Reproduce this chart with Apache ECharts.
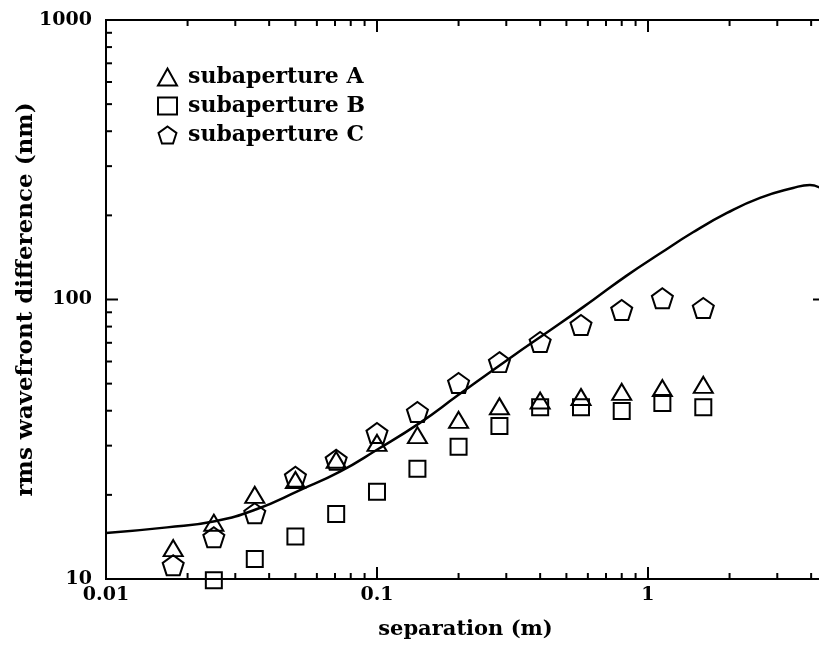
<!DOCTYPE html>
<html>
<head>
<meta charset="utf-8">
<title>rms wavefront difference vs separation</title>
<script src="https://cdn.jsdelivr.net/npm/echarts@6/dist/echarts.min.js"></script>
<style>
  html, body { margin: 0; padding: 0; background: #fff; overflow: hidden; }
  #chart { width: 819px; height: 645px; }
</style>
</head>
<body>
<div id="chart"></div>
<script>
// separations (m) of the measured points
var separation = [0.0177, 0.025, 0.0354, 0.05, 0.0707, 0.1, 0.141, 0.2, 0.283, 0.4, 0.566, 0.8, 1.13, 1.6];
// rms wavefront difference (nm) per subaperture
var subA = [12.9, 15.9, 20.0, 22.6, 26.7, 30.7, 32.7, 37.1, 41.5, 43.5, 44.8, 46.7, 48.2, 49.5];
var subB = [null, 9.9, 11.8, 14.2, 17.1, 20.5, 24.8, 29.7, 35.3, 41.2, 41.2, 39.9, 42.6, 41.2];
var subC = [11.2, 14.1, 17.2, 23.2, 26.7, 33.3, 39.6, 50.3, 59.7, 70.5, 81.0, 91.7, 101, 93.3];
// model curve
var curveX = [0.01, 0.0168, 0.0252, 0.0361, 0.052, 0.073, 0.1, 0.144, 0.2, 0.31, 0.473, 0.627, 0.837, 1.107, 1.466, 1.957, 2.59, 3.43, 3.96, 4.5];
var curveY = [14.6, 15.3, 16.1, 17.8, 20.8, 24.2, 29.0, 36.2, 45.6, 61.8, 82.0, 99.6, 122, 146, 174, 204, 231, 250.6, 257, 244];
// axes
var xMin = 0.01, xMax = 4.5;
var yMin = 10, yMax = 1000;
var xMajorTicks = [0.01, 0.1, 1];
var xMinorTicks = [0.02, 0.03, 0.04, 0.05, 0.06, 0.07, 0.08, 0.09, 0.2, 0.3, 0.4, 0.5, 0.6, 0.7, 0.8, 0.9, 2, 3, 4];
var yMajorTicks = [10, 100, 1000];
var yMinorTicks = [20, 30, 40, 50, 60, 70, 80, 90, 200, 300, 400, 500, 600, 700, 800, 900];
var seriesNames = ['subaperture A', 'subaperture B', 'subaperture C'];

var FONT = 'DejaVu Serif';
var pentagon = 'path://M50,0 L97.6,34.5 L79.4,90.5 L20.6,90.5 L2.4,34.5 Z';

function pairs(xs, ys) {
  var out = [];
  for (var i = 0; i < xs.length; i++) {
    if (ys[i] != null) out.push([xs[i], ys[i]]);
  }
  return out;
}

function isDecade(v) {
  var l = Math.log10(v);
  return Math.abs(l - Math.round(l)) < 1e-6;
}
function fmt(v) {
  return isDecade(v) ? String(Number(v.toPrecision(6))) : '';
}

// ticks on bottom + top edges
function xTickItem(params, api) {
  var v = api.value(0);
  var len = api.value(2) ? 12 : 6;
  var b = api.coord([v, yMin]);
  var t = api.coord([v, yMax]);
  var st = { stroke: '#000', lineWidth: 2 };
  return { type: 'group', children: [
    { type: 'line', shape: { x1: b[0], y1: b[1], x2: b[0], y2: b[1] - len }, style: st },
    { type: 'line', shape: { x1: t[0], y1: t[1], x2: t[0], y2: t[1] + len }, style: st }
  ]};
}
// ticks on left + right edges
function yTickItem(params, api) {
  var v = api.value(1);
  var len = api.value(2) ? 12 : 6;
  var l = api.coord([xMin, v]);
  var r = api.coord([xMax, v]);
  var st = { stroke: '#000', lineWidth: 2 };
  return { type: 'group', children: [
    { type: 'line', shape: { x1: l[0], y1: l[1], x2: l[0] + len, y2: l[1] }, style: st },
    { type: 'line', shape: { x1: r[0], y1: r[1], x2: r[0] - len, y2: r[1] }, style: st }
  ]};
}

var xTickData = xMajorTicks.map(function (v) { return [v, yMin, 1]; })
  .concat(xMinorTicks.map(function (v) { return [v, yMin, 0]; }));
var yTickData = yMajorTicks.map(function (v) { return [xMin, v, 1]; })
  .concat(yMinorTicks.map(function (v) { return [xMin, v, 0]; }));

var markerStyle = { color: 'rgba(0,0,0,0)', borderColor: '#000', borderWidth: 2, opacity: 1 };

var chart = echarts.init(document.getElementById('chart'));
var option = {
  backgroundColor: '#fff',
  animation: false,
  textStyle: { fontFamily: FONT, fontWeight: 'bold', color: '#000' },
  grid: {
    left: 106, right: -6, top: 20, bottom: 66,
    outerBoundsMode: 'none', containLabel: false,
    show: true, borderColor: '#000', borderWidth: 2
  },
  legend: {
    orient: 'vertical',
    left: 152, top: 61,
    itemWidth: 19, itemHeight: 17, itemGap: 7,
    selectedMode: false,
    itemStyle: { color: 'rgba(0,0,0,0)', borderColor: '#000', borderWidth: 2, opacity: 1 },
    textStyle: { fontFamily: FONT, fontWeight: 'bold', fontSize: 22, color: '#000', padding: [0, 0, 0, 6] },
    data: [
      { name: seriesNames[0], icon: 'triangle' },
      { name: seriesNames[1], icon: 'rect' },
      { name: seriesNames[2], icon: pentagon }
    ]
  },
  xAxis: {
    type: 'log', logBase: 10, min: xMin, max: xMax,
    name: 'separation (m)', nameLocation: 'middle', nameGap: 40, nameMoveOverlap: false,
    nameTextStyle: { fontFamily: FONT, fontWeight: 'bold', fontSize: 21, color: '#000' },
    axisLine: { show: true, lineStyle: { color: '#000', width: 2 } },
    axisTick: { show: false },
    splitLine: { show: false },
    axisLabel: {
      margin: 7, fontFamily: FONT, fontWeight: 'bold', fontSize: 19, color: '#000',
      showMinLabel: true, showMaxLabel: false, formatter: fmt
    }
  },
  yAxis: {
    type: 'log', logBase: 10, min: yMin, max: yMax,
    name: 'rms wavefront difference (nm)', nameLocation: 'middle', nameGap: 68, nameMoveOverlap: false,
    nameTextStyle: { fontFamily: FONT, fontWeight: 'bold', fontSize: 23, color: '#000' },
    axisLine: { show: true, lineStyle: { color: '#000', width: 2 } },
    axisTick: { show: false },
    splitLine: { show: false },
    axisLabel: {
      margin: 14, fontFamily: FONT, fontWeight: 'bold', fontSize: 19, color: '#000',
      formatter: fmt
    }
  },
  series: [
    {
      type: 'line', name: 'model', data: pairs(curveX, curveY),
      smooth: 0.5, showSymbol: false, symbol: 'none', clip: true,
      lineStyle: { color: '#000', width: 2.5 }, z: 3
    },
    {
      type: 'scatter', name: seriesNames[0], data: pairs(separation, subA),
      symbol: 'triangle', symbolSize: [19, 16], itemStyle: markerStyle, clip: false, z: 4
    },
    {
      type: 'scatter', name: seriesNames[1], data: pairs(separation, subB),
      symbol: 'rect', symbolSize: [16, 16], itemStyle: markerStyle, clip: false, z: 4
    },
    {
      type: 'scatter', name: seriesNames[2], data: pairs(separation, subC),
      symbol: pentagon, symbolSize: [21, 20], itemStyle: markerStyle, clip: false, z: 4
    },
    {
      type: 'custom', name: 'xticks', data: xTickData, renderItem: xTickItem,
      clip: false, silent: true, z: 5
    },
    {
      type: 'custom', name: 'yticks', data: yTickData, renderItem: yTickItem,
      clip: false, silent: true, z: 5
    }
  ]
};
chart.setOption(option);
</script>
</body>
</html>
